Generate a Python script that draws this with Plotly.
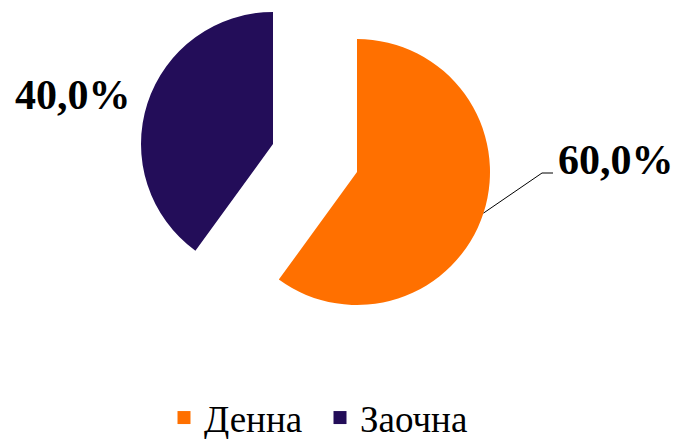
import math
import plotly.graph_objects as go

# ---- data ----
labels = ["Денна", "Заочна"]
values = [60, 40]
colors = ["#FF7000", "#230D59"]

W, H = 677, 439
total = sum(values)
shares = [v / total for v in values]
pct_text = [f"{s*100:.1f}%".replace(".", ",") for s in shares]

# pixel geometry of each (pulled) slice: centre x, centre y, radius
geom = [(357, 172, 133), (273, 144, 132)]

def domain(cx, cy, r):
    return dict(x=[(cx - r) / W, (cx + r) / W],
                y=[1 - (cy + r) / H, 1 - (cy - r) / H])

fig = go.Figure()
for k in range(len(values)):
    cols = [colors[i] if i == k else "rgba(0,0,0,0)" for i in range(len(values))]
    fig.add_trace(go.Pie(
        labels=labels, values=values, sort=False, direction="clockwise",
        rotation=0, marker=dict(colors=cols, line=dict(width=0)),
        textinfo="none", hoverinfo="skip", showlegend=False,
        domain=domain(*geom[k]),
    ))

# legend entries
for lab, col in zip(labels, colors):
    fig.add_trace(go.Scatter(x=[None], y=[None], mode="markers", name=lab,
                             marker=dict(symbol="square", size=13, color=col)))

# leader line for the first slice (from arc at slice mid-angle)
cx, cy, r = geom[0]
mid = 2 * math.pi * shares[0] / 2
px, py = cx + r * math.sin(mid), cy - r * math.cos(mid)
shapes = [
    dict(type="path", xref="paper", yref="paper",
         path=f"M{px/W},{1-py/H} L{542/W},{1-173/H} L{553/W},{1-173/H}",
         line=dict(color="black", width=1)),
]

font_lbl = dict(family="Liberation Serif, Times New Roman, serif", size=42, color="black")
annotations = [
    dict(text=f"<b>{pct_text[0]}</b>", x=556 / W, y=1 - 160 / H, xref="paper", yref="paper",
         xanchor="left", yanchor="middle", showarrow=False, font=font_lbl),
    dict(text=f"<b>{pct_text[1]}</b>", x=133 / W, y=1 - 95 / H, xref="paper", yref="paper",
         xanchor="right", yanchor="middle", showarrow=False, font=font_lbl),
]

fig.update_layout(
    width=W, height=H,
    margin=dict(l=0, r=0, t=0, b=0, autoexpand=False),
    paper_bgcolor="white", plot_bgcolor="white",
    xaxis=dict(visible=False), yaxis=dict(visible=False),
    shapes=shapes, annotations=annotations,
    showlegend=True,
    legend=dict(orientation="h", x=164 / W, xanchor="left", y=1 - 418 / H, yanchor="middle",
                entrywidth=111,
                font=dict(family="Liberation Serif, Times New Roman, serif", size=37, color="black"),
                bgcolor="rgba(0,0,0,0)"),
)

fig.write_html("out.html", config={"displayModeBar": False},
               post_script="document.body.style.margin='0px';document.body.style.overflow='hidden';")
